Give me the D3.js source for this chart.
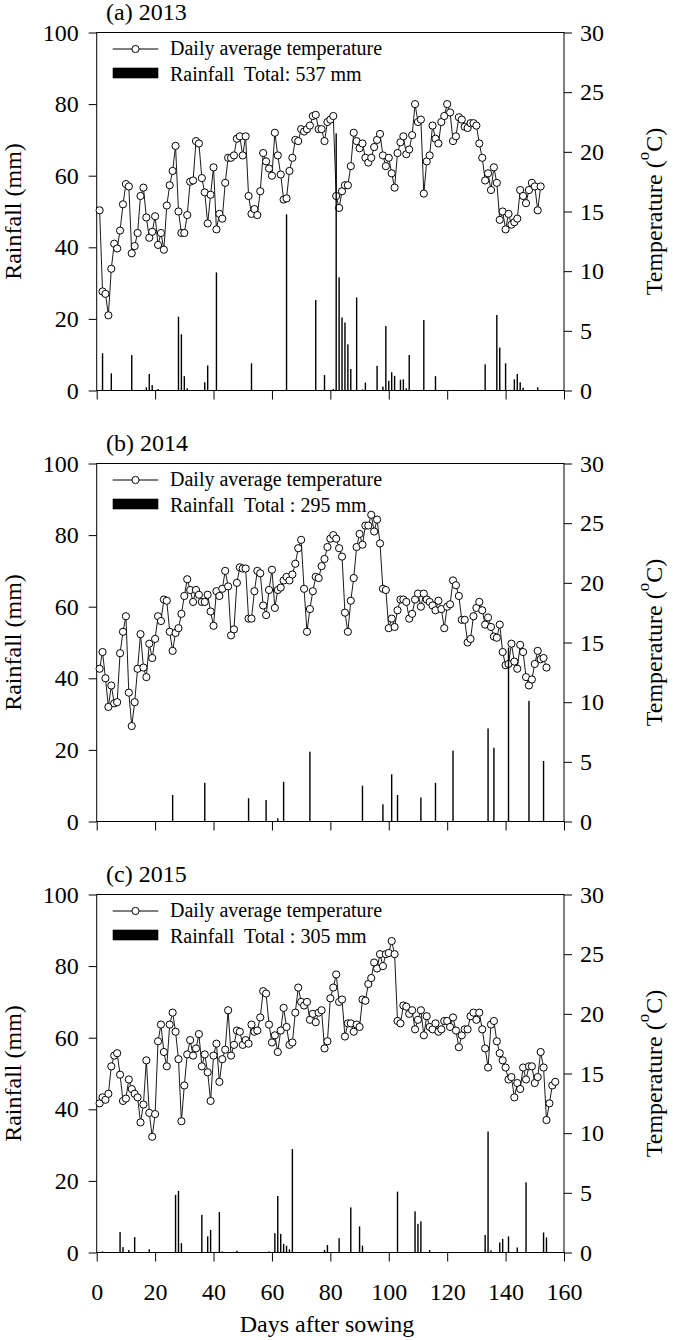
<!DOCTYPE html>
<html><head><meta charset="utf-8">
<script src="https://cdn.jsdelivr.net/npm/d3@7"></script>
<style>
body{margin:0;background:#fff}
svg{display:block}
text{font-family:"Liberation Serif","Times New Roman",Times,"DejaVu Serif",serif;fill:#000}
</style>
</head><body>
<svg id="chart" width="675" height="1340"></svg>
<script>
// ---------------- DATA ----------------
const dayTicks = [0, 20, 40, 60, 80, 100, 120, 140, 160];
const rainTicks = [0, 20, 40, 60, 80, 100];
const tempTicks = [0, 5, 10, 15, 20, 25, 30];
const panelTitles = ["(a) 2013", "(b) 2014", "(c) 2015"];
const rainLegends = ["Rainfall  Total: 537 mm", "Rainfall  Total : 295 mm", "Rainfall  Total : 305 mm"];
const tempLegend = "Daily average temperature";

// daily mean temperature (°C), day 1, 2, 3, ...
const temp2013 = [15.1,8.3,8.1,6.3,10.2,12.3,11.9,13.4,15.6,17.3,
17.1,11.5,12.1,13.2,16.3,17.0,14.5,12.8,13.3,14.6,
12.2,13.2,11.8,15.5,17.2,18.4,20.5,15.0,13.2,13.2,
14.7,17.5,17.6,20.9,20.7,17.8,16.6,14.0,16.4,18.7,
13.5,14.8,14.4,17.4,19.5,19.5,19.7,21.1,21.3,19.7,
21.3,16.3,14.8,15.2,14.7,16.7,19.9,19.2,18.6,18.0,
21.6,19.7,18.1,16.0,16.1,18.4,19.5,21.0,20.9,21.9,
21.7,21.9,22.2,23.0,23.1,21.9,21.9,20.9,22.5,22.7,
23.0,16.3,15.3,16.7,17.2,17.2,18.8,21.6,20.9,20.3,
20.7,19.5,19.1,19.5,20.4,21.0,21.5,19.7,18.8,19.5,
18.2,17.0,19.9,20.8,21.3,19.8,20.2,21.4,24.0,22.5,
22.7,16.5,19.2,19.7,22.2,21.1,20.7,22.5,23.0,24.0,
23.3,20.9,21.3,22.9,22.7,22.1,22.0,22.4,22.4,22.2,
20.7,19.5,17.6,18.2,16.8,18.7,17.4,14.3,15.0,13.5,
14.8,13.9,14.1,14.4,16.8,16.3,15.7,16.8,17.4,17.1,
15.1,17.1];
const temp2014 = [12.8,14.2,12.0,9.6,11.4,9.9,10.0,14.1,15.9,17.2,
10.8,8.0,10.0,12.8,15.7,12.9,12.1,14.9,13.7,15.3,
17.2,16.8,18.6,18.5,15.9,14.3,15.8,16.2,17.4,18.9,
20.3,19.4,18.4,19.4,19.0,18.4,18.4,19.0,17.6,16.4,
19.3,18.9,19.5,21.0,19.7,15.6,16.1,20.0,21.3,21.2,
21.2,17.0,17.0,19.3,21.0,20.8,18.1,17.3,19.4,21.1,
17.9,19.4,19.6,20.2,20.5,20.2,20.7,21.6,22.9,23.6,
19.5,15.9,17.8,19.3,20.5,20.4,21.4,22.0,23.0,23.7,
24.0,23.7,22.9,22.2,17.5,15.9,18.5,20.4,23.0,24.1,
23.2,24.8,24.8,25.7,24.3,25.3,23.3,19.5,19.4,16.2,
17.0,16.3,17.7,18.6,18.6,18.4,17.0,17.4,18.6,19.1,
18.0,19.1,18.6,18.4,18.1,17.7,18.5,17.8,16.2,18.0,
18.2,20.2,19.8,18.9,16.9,16.9,15.0,15.3,17.2,17.9,
18.4,17.7,16.5,17.1,16.3,15.5,15.4,16.5,14.2,13.1,
13.2,14.9,13.4,12.8,14.8,14.2,12.1,11.4,11.9,13.2,
14.3,13.6,13.7,12.9];
const temp2015 = [12.5,13.0,12.8,13.3,15.6,16.5,16.7,14.9,12.7,12.9,
14.5,13.7,13.3,13.0,10.9,12.4,16.1,11.7,9.7,11.6,
17.7,19.1,16.8,15.6,19.1,20.1,18.5,16.2,11.0,14.0,
16.6,17.8,16.5,17.1,18.3,15.6,16.6,15.1,12.7,16.5,
17.5,14.3,16.2,17.0,20.3,16.5,17.4,18.6,18.5,17.4,
17.8,17.5,19.1,18.5,18.6,19.7,21.9,21.7,19.1,17.6,
18.2,16.8,18.6,20.5,18.9,17.4,17.6,20.1,22.2,21.0,
20.7,21.0,19.5,20.0,19.3,20.1,20.3,17.1,17.7,21.3,
22.2,23.3,21.0,21.2,18.1,19.2,19.2,18.5,19.1,18.9,
21.2,21.1,22.5,23.0,24.3,23.8,25.0,24.0,25.0,25.1,
26.1,25.0,19.4,19.2,20.7,20.6,20.0,20.3,18.7,19.5,
20.3,18.2,19.8,18.9,18.7,19.2,18.5,18.7,19.4,19.4,
18.9,19.7,18.6,17.2,18.2,18.7,18.7,19.8,20.1,19.5,
20.1,18.7,17.1,15.5,19.1,19.4,17.7,16.7,16.1,15.5,
14.5,14.7,13.0,14.2,13.7,15.5,14.5,15.6,15.6,14.2,
14.7,16.8,15.5,11.1,12.5,14.0,14.3];

// rainfall events: day after sowing and amount (mm)
const rainDays2013 = [2,5,12,17,18,19,21,28,29,30,31,37,38,41,53,65,75,78,81,82,83,84,85,86,87,89,91,92,96,98,99,100,101,102,104,105,106,107,112,116,133,137,138,140,143,144,145,146,151];
const rainMm2013 = [10.4,4.8,9.9,0.9,4.6,1.5,0.4,20.6,15.7,4.0,0.6,2.3,7.0,33.0,7.6,49.2,25.3,4.3,0.4,71.8,31.6,20.4,19.0,12.9,6.0,26.0,0.3,2.2,6.9,1.1,18.0,2.7,5.1,4.1,3.0,3.1,0.6,9.9,19.7,4.0,7.3,21.1,12.0,7.6,3.1,4.6,2.3,0.8,0.9];
const rainDays2014 = [26,37,52,58,62,64,73,91,98,101,103,111,116,122,134,136,141,148,153];
const rainMm2014 = [7.4,10.8,6.5,6.0,0.9,11.1,19.5,10.0,4.8,13.2,7.4,6.7,10.8,19.8,26.0,20.6,48.6,33.7,16.9];
const rainDays2015 = [2,8,9,11,13,18,27,28,29,36,38,39,42,43,48,59,61,62,63,64,65,66,67,78,79,83,87,90,91,103,109,110,111,114,133,134,135,138,139,141,144,147,153,154];
const rainMm2015 = [0.3,5.7,1.5,0.7,4.3,0.9,16.1,17.2,2.6,10.5,4.5,6.3,11.3,0.3,0.5,0.3,5.4,15.8,5.2,2.4,1.9,0.9,28.9,0.7,2.1,4.0,12.6,7.3,1.9,17.0,11.5,8.0,8.7,0.7,4.9,33.8,0.6,2.8,3.8,4.5,1.4,19.6,5.6,4.2];

// ---------------- DRAWING ----------------
const svg = d3.select("#chart");
const FONT = "'Liberation Serif','Times New Roman',Times,'DejaVu Serif',serif";
const plotLeft = 96.7, plotRight = 564, plotH = 358;
const panelTops = [32.5, 463.5, 894.5];
const temps = [temp2013, temp2014, temp2015];
const rainDays = [rainDays2013, rainDays2014, rainDays2015];
const rainMm = [rainMm2013, rainMm2014, rainMm2015];

const x = d3.scaleLinear().domain([0, 160]).range([plotLeft, plotRight]);

panelTops.forEach((top, i) => {
  const bottom = top + plotH;
  const yR = d3.scaleLinear().domain([0, 100]).range([bottom, top]);
  const yT = d3.scaleLinear().domain([0, 30]).range([bottom, top]);
  const g = svg.append("g");
  const last = i === panelTops.length - 1;

  const styleAxis = (sel) => {
    sel.attr("font-family", FONT).attr("font-size", 24);
    sel.select(".domain").remove();
    sel.selectAll(".tick line").attr("stroke", "#000").attr("stroke-width", 1);
    sel.selectAll(".tick text").attr("fill", "#000");
  };
  g.append("g").attr("transform", `translate(${plotLeft},0)`)
    .call(d3.axisLeft(yR).tickValues(rainTicks).tickSize(8).tickPadding(10).tickFormat(d3.format("d")))
    .call(styleAxis);
  g.append("g").attr("transform", `translate(${plotRight},0)`)
    .call(d3.axisRight(yT).tickValues(tempTicks).tickSize(8).tickPadding(8).tickFormat(d3.format("d")))
    .call(styleAxis);
  g.append("g").attr("transform", `translate(0,${bottom})`)
    .call(d3.axisBottom(x).tickValues(dayTicks).tickSize(9).tickPadding(21)
      .tickFormat(last ? d3.format("d") : () => ""))
    .call(styleAxis);

  // frame
  g.append("rect").attr("x", plotLeft).attr("y", top)
    .attr("width", plotRight - plotLeft).attr("height", plotH)
    .attr("fill", "none").attr("stroke", "#000").attr("stroke-width", 1);

  // temperature line + markers
  const tdata = temps[i].map((t, k) => ({ day: k + 1, t }));
  g.append("path").datum(tdata)
    .attr("fill", "none").attr("stroke", "#000").attr("stroke-width", 0.9)
    .attr("d", d3.line().x(d => x(d.day)).y(d => yT(d.t)));
  g.selectAll("circle.tc").data(tdata).join("circle")
    .attr("class", "tc")
    .attr("cx", d => x(d.day)).attr("cy", d => yT(d.t)).attr("r", 3.6)
    .attr("fill", "#fff").attr("stroke", "#000").attr("stroke-width", 1);

  // rainfall bars
  const rdata = rainDays[i].map((d, k) => ({ day: d, mm: rainMm[i][k] }));
  const bw = 1.4;
  g.selectAll("rect.rb").data(rdata).join("rect")
    .attr("class", "rb")
    .attr("x", d => x(d.day) - bw / 2).attr("width", bw)
    .attr("y", d => yR(d.mm)).attr("height", d => yR(0) - yR(d.mm))
    .attr("fill", "#000");

  // title
  g.append("text").attr("x", 106).attr("y", top - 13)
    .attr("font-size", 24).text(panelTitles[i]);

  // legend
  const ly = top + 16.5;
  g.append("line").attr("x1", 112.7).attr("x2", 158.3).attr("y1", ly).attr("y2", ly)
    .attr("stroke", "#000").attr("stroke-width", 1);
  g.append("circle").attr("cx", 135.5).attr("cy", ly).attr("r", 3.6)
    .attr("fill", "#fff").attr("stroke", "#000");
  g.append("text").attr("x", 170).attr("y", top + 22.8).attr("font-size", 20).text(tempLegend);
  g.append("rect").attr("x", 112.7).attr("y", top + 35.2).attr("width", 45.6).attr("height", 10.6)
    .attr("fill", "#000");
  g.append("text").attr("x", 170).attr("y", top + 48.2).attr("font-size", 20)
    .attr("xml:space", "preserve").style("white-space", "pre").text(rainLegends[i]);

  // axis titles
  const cy = (top + bottom) / 2;
  g.append("text").attr("transform", `translate(21,${cy}) rotate(-90)`)
    .attr("text-anchor", "middle").attr("font-size", 24).text("Rainfall (mm)");
  const tt = g.append("text").attr("transform", `translate(662,${cy}) rotate(-90)`)
    .attr("text-anchor", "middle").attr("font-size", 24)
    .attr("xml:space", "preserve").style("white-space", "pre");
  tt.append("tspan").text("Temperature (");
  tt.append("tspan").attr("font-size", 17).attr("dy", -13).text("o");
  tt.append("tspan").attr("dy", 13).text("C)");
});

svg.append("text").attr("x", 327).attr("y", 1332).attr("text-anchor", "middle")
  .attr("font-family", FONT).attr("font-size", 24).text("Days after sowing");
</script>
</body></html>
